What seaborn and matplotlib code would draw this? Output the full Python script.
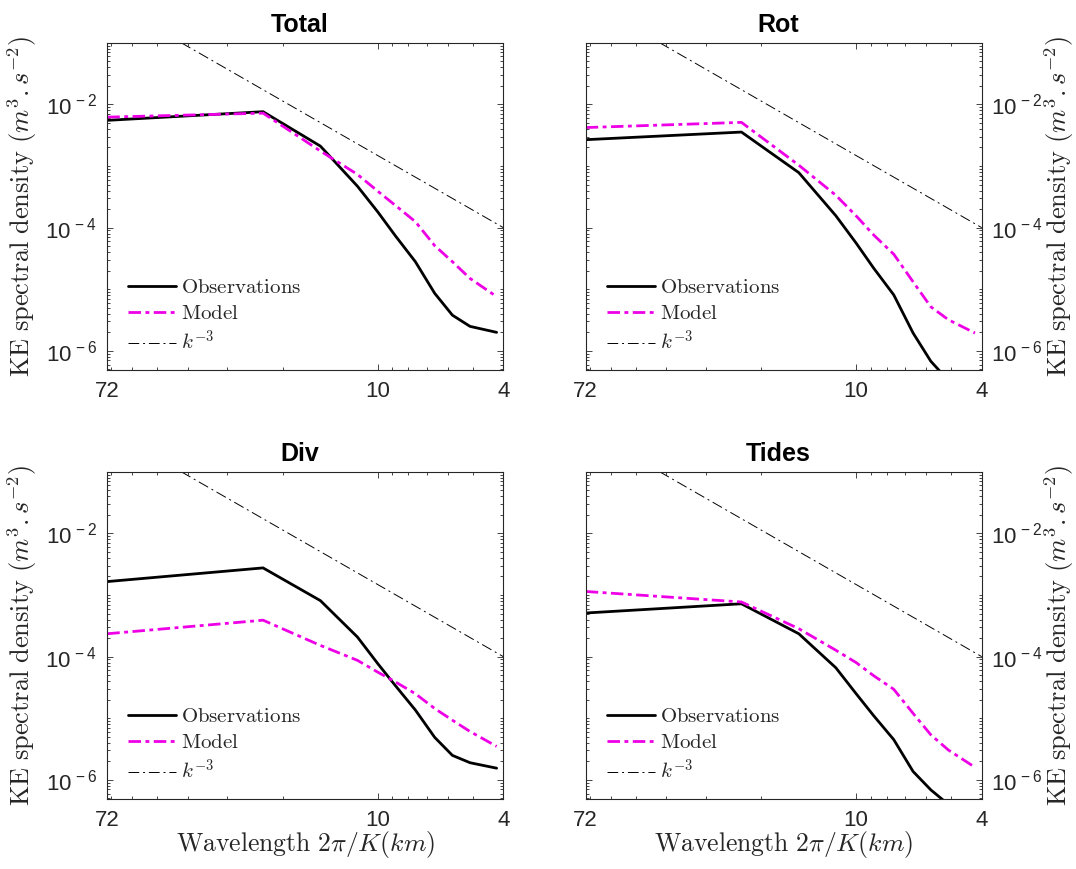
import numpy as np
import pandas as pd
import matplotlib
matplotlib.use("Agg")
import matplotlib.pyplot as plt
import seaborn as sns
from matplotlib.ticker import FixedLocator, FixedFormatter, LogLocator, NullFormatter
from matplotlib.font_manager import FontProperties

# ---------------- data ----------------
wavelength_km = [72.0, 23.1, 15.2, 11.6, 10.0, 8.8, 7.6, 6.6, 5.8, 5.1, 4.2]

total_obs   = [5.5e-3, 7.6e-3, 2.1e-3, 4.7e-4, 1.8e-4, 7.4e-5, 2.8e-5, 8.6e-6, 3.8e-6, 2.5e-6, 2.0e-6]
total_model = [6.2e-3, 7.2e-3, 1.75e-3, 7.3e-4, 3.9e-4, 2.3e-4, 1.25e-4, 5.1e-5, 2.8e-5, 1.5e-5, 7.6e-6]

rot_obs   = [2.67e-3, 3.55e-3, 7.8e-4, 1.56e-4, 5.6e-5, 2.2e-5, 8.1e-6, 1.95e-6, 6.8e-7, 3.3e-7, 1.5e-7]
rot_model = [4.2e-3, 5.1e-3, 1.03e-3, 3.35e-4, 1.55e-4, 7.6e-5, 3.7e-5, 1.32e-5, 5.2e-6, 3.2e-6, 1.95e-6]

div_obs   = [1.65e-3, 2.75e-3, 8.1e-4, 2.08e-4, 7.7e-5, 3.4e-5, 1.36e-5, 4.9e-6, 2.5e-6, 1.9e-6, 1.55e-6]
div_model = [2.35e-4, 3.9e-4, 1.52e-4, 8.7e-5, 5.6e-5, 3.9e-5, 2.5e-5, 1.44e-5, 9.3e-6, 6.1e-6, 3.5e-6]

tides_obs   = [5.1e-4, 7.2e-4, 2.35e-4, 6.6e-5, 2.5e-5, 1.1e-5, 4.5e-6, 1.37e-6, 6.9e-7, 4.0e-7, 2.5e-7]
tides_model = [1.14e-3, 7.7e-4, 2.84e-4, 1.27e-4, 8.0e-5, 4.9e-5, 2.95e-5, 1.2e-5, 5.4e-6, 3.05e-6, 1.6e-6]

# k^-3 reference line (end points)
ref_wavelength_km = [42.0, 4.0]
ref_density = [1e-1, 1e-4]

panel_titles = ["Total", "Rot", "Div", "Tides"]
panel_obs = [total_obs, rot_obs, div_obs, tides_obs]
panel_model = [total_model, rot_model, div_model, tides_model]

x_tick_values = [72, 10, 4]
x_tick_labels = ["72", "10", "4"]
y_tick_values = [1e-6, 1e-4, 1e-2]
y_tick_labels = [r"$10^{\,-6}$", r"$10^{\,-4}$", r"$10^{\,-2}$"]

legend_labels = [r"$\mathrm{Observations}$", r"$\mathrm{Model}$", r"$k^{-3}$"]
y_label = r"$\mathrm{KE\ spectral\ density}\ (m^3{.}s^{-2})$"
x_label = r"$\mathrm{Wavelength}\ 2\pi/K(km)$"

# ---------------- style ----------------
sns.set_style("ticks")
plt.rcParams.update({
    "font.family": ["Liberation Sans", "DejaVu Sans"],
    "mathtext.fontset": "custom",
    "mathtext.rm": "Liberation Sans",
    "mathtext.it": "Liberation Sans:italic",
    "mathtext.bf": "Liberation Sans:bold",
    "axes.edgecolor": "#262626",
    "axes.linewidth": 0.8,
})

DARK = "#262626"
MAGENTA = "#EE00E6"

W, H = 1076, 869
fig = plt.figure(figsize=(W / 100, H / 100), dpi=100)
fig.patch.set_facecolor("white")

boxes = [(107.3, 42.7), (585.7, 42.7), (107.3, 471.7), (585.7, 471.7)]
aw, ah = 396.0, 327.3

for i, (x0, y0) in enumerate(boxes):
    ax = fig.add_axes([x0 / W, 1 - (y0 + ah) / H, aw / W, ah / H])
    df = pd.DataFrame({
        "wavelength": wavelength_km,
        "Observations": panel_obs[i],
        "Model": panel_model[i],
    })
    ref = pd.DataFrame({"wavelength": ref_wavelength_km, "density": ref_density})

    sns.lineplot(data=df, x="wavelength", y="Observations", ax=ax, color="black",
                 linewidth=2.0, sort=False, estimator=None)
    sns.lineplot(data=df, x="wavelength", y="Model", ax=ax, color=MAGENTA,
                 linewidth=2.0, sort=False, estimator=None,
                 linestyle=(0, (4.5, 1.6, 1.4, 1.6)))
    sns.lineplot(data=ref, x="wavelength", y="density", ax=ax, color="black",
                 linewidth=0.7, sort=False, estimator=None,
                 linestyle=(0, (11, 4, 2, 4)))

    ax.set_xscale("log")
    ax.set_yscale("log")
    ax.set_xlim(72, 4)
    ax.set_ylim(4.9e-7, 1e-1)

    ax.xaxis.set_major_locator(FixedLocator(x_tick_values))
    ax.xaxis.set_major_formatter(FixedFormatter(x_tick_labels))
    ax.xaxis.set_minor_locator(LogLocator(base=10, subs=np.arange(2, 10), numticks=50))
    ax.xaxis.set_minor_formatter(NullFormatter())
    ax.yaxis.set_major_locator(FixedLocator(y_tick_values))
    ax.yaxis.set_major_formatter(FixedFormatter(y_tick_labels))
    ax.yaxis.set_minor_locator(LogLocator(base=10, subs=np.arange(1, 10), numticks=50))
    ax.yaxis.set_minor_formatter(NullFormatter())

    right = i in (1, 3)
    ax.tick_params(axis="both", which="both", direction="in", top=True, right=True,
                   left=True, bottom=True, color=DARK, width=0.6)
    ax.tick_params(axis="both", which="major", length=4.0, labelsize=16, labelcolor=DARK)
    ax.tick_params(axis="both", which="minor", length=2.3)
    ax.tick_params(axis="x", which="major", pad=8)
    if right:
        ax.tick_params(axis="y", which="major", labelleft=False, labelright=True, pad=6.5)
    else:
        ax.tick_params(axis="y", which="major", labelleft=True, labelright=False, pad=7.5)

    for sp in ax.spines.values():
        sp.set_color(DARK)
        sp.set_linewidth(0.8)

    ax.set_title(panel_titles[i], fontsize=18, fontweight="bold", pad=8, x=0.485, color="black")

    ax.set_ylabel(y_label, fontsize=19, color=DARK, math_fontfamily="cm")
    if right:
        ax.yaxis.set_label_position("right")
        ax.yaxis.set_label_coords(1.152, 0.5)
    else:
        ax.yaxis.set_label_coords(-0.1737, 0.5)

    if i >= 2:
        ax.set_xlabel(x_label, fontsize=18.5, color=DARK, math_fontfamily="cm")
        ax.xaxis.set_label_coords(0.5, -0.092)
    else:
        ax.set_xlabel("")

    handles = ax.get_lines()[:3]
    ax.legend(handles, legend_labels, loc="upper left", bbox_to_anchor=(0.053, 0.28),
              frameon=False, prop=FontProperties(size=15, math_fontfamily="cm"),
              handlelength=2.3, handletextpad=0.25, labelspacing=0.32,
              borderpad=0, borderaxespad=0)

fig.savefig("out.png", dpi=100, facecolor="white")
